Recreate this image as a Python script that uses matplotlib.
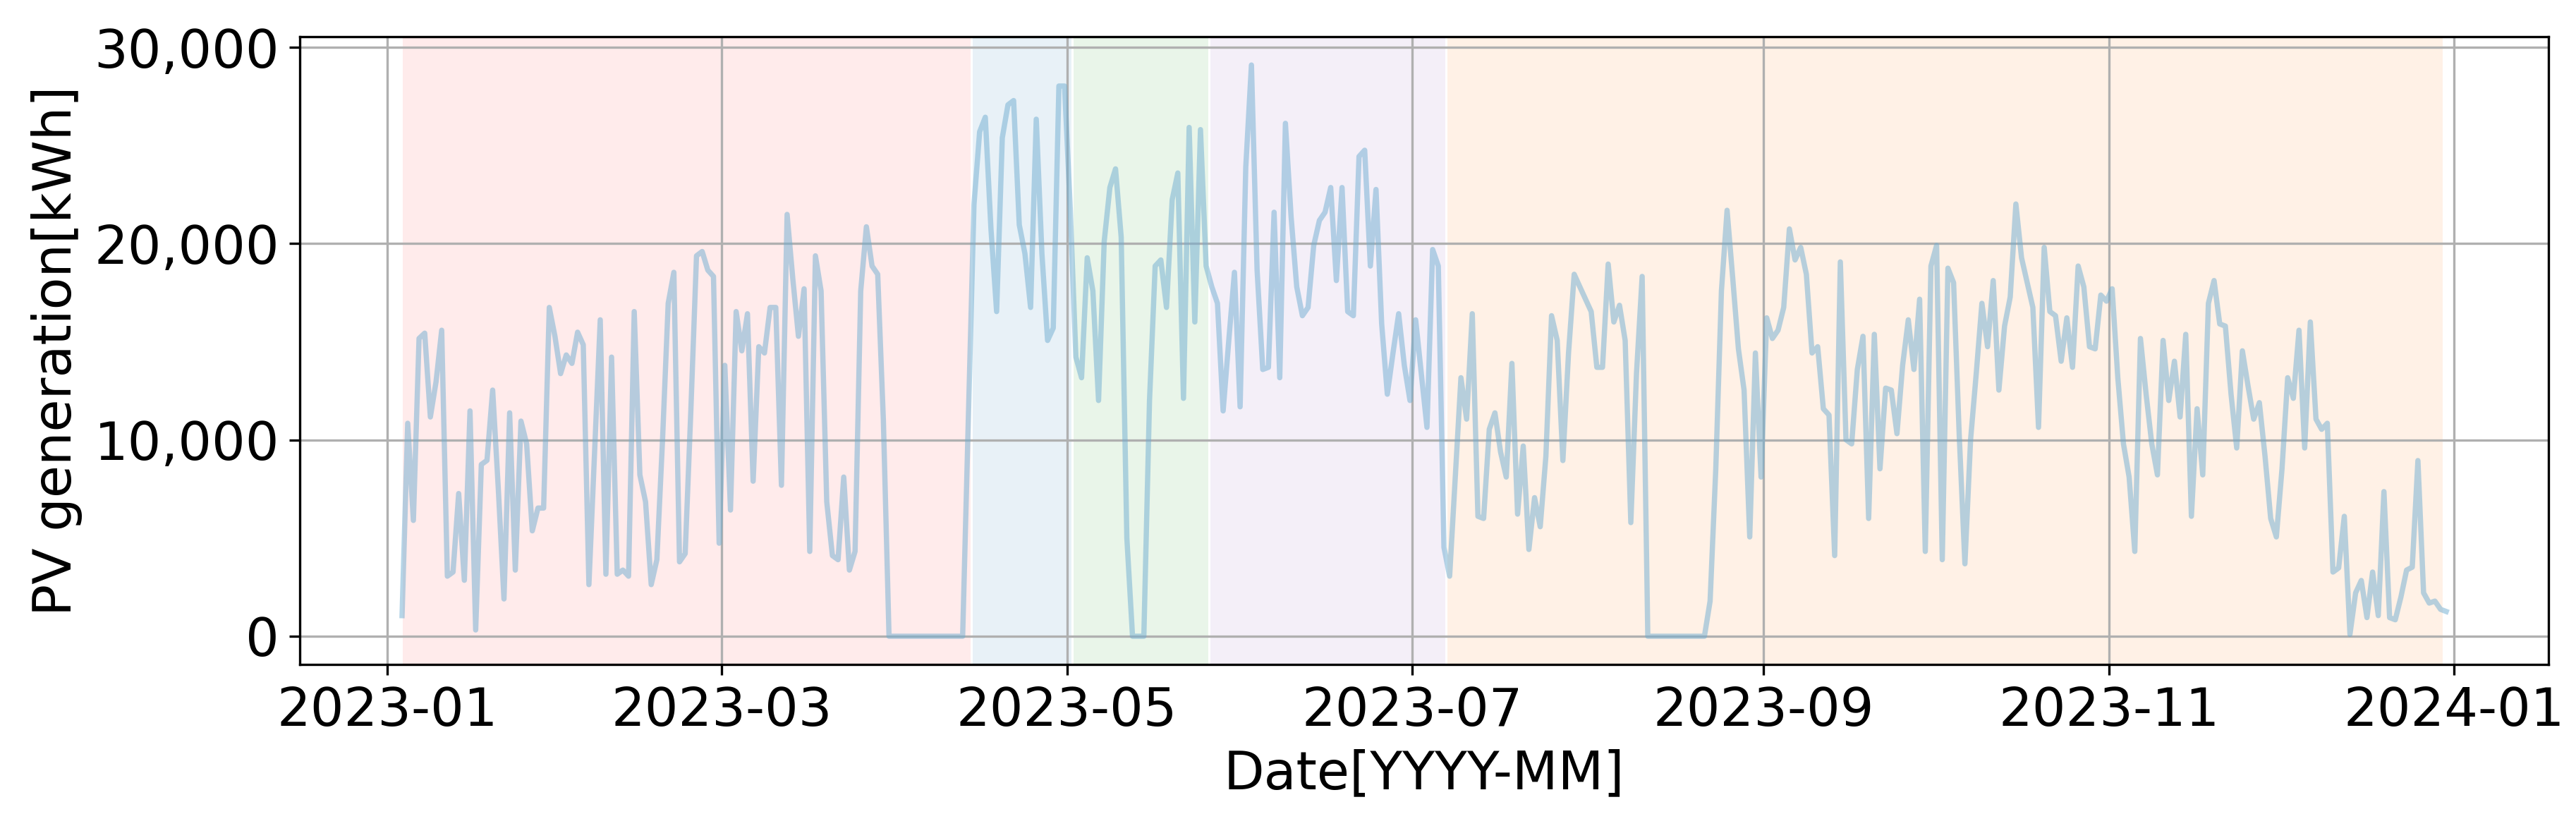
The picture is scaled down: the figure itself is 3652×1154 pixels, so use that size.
import numpy as np
import pandas as pd
import matplotlib
matplotlib.use("Agg")
from matplotlib import pyplot as plt
import matplotlib.dates as mdates
from matplotlib.ticker import FuncFormatter, MultipleLocator

plt.rcParams['font.family'] = ['DejaVu Sans']
plt.rcParams['font.size'] = 18

# daily PV generation [kWh], one value per day
start_date = "2023-01-03 14:00"
pv_kwh = [
    1050, 10850, 5900, 15170, 15440, 11170, 12960, 15590, 3060, 3270,
    7270, 2850, 11480, 320, 8750, 8960, 12540, 7500, 1900, 11380,
    3370, 10960, 9800, 5370, 6530, 6530, 16750, 15280, 13380, 14330,
    13900, 15490, 14850, 2630, 9400, 16120, 3160, 14220, 3160, 3370,
    3060, 16540, 8220, 6850, 2630, 3900, 10000, 16960, 18540, 3790,
    4210, 11500, 19380, 19600, 18650, 18330, 4740, 13800, 6430, 16540,
    14540, 16430, 7900, 14750, 14430, 16750, 16750, 7690, 21490, 18230,
    15280, 17700, 4320, 19380, 17590, 6850, 4110, 3900, 8110, 3370,
    4320, 17590, 20860, 18860, 18440, 11000, 0, 0, 0, 0,
    0, 0, 0, 0, 0, 0, 0, 0, 0, 0,
    11000, 22000, 25700, 26440, 20750, 16540, 25390, 27070, 27290, 20960,
    19490, 16750, 26340, 19490, 15070, 15700, 28030, 28030, 21800, 14220,
    13170, 19280, 17590, 12010, 20120, 22860, 23810, 20330, 5000, 0,
    0, 0, 12000, 18860, 19170, 16750, 22230, 23600, 12120, 25920,
    16010, 25810, 18860, 17800, 16960, 11480, 15070, 18540, 11690, 23900,
    29100, 18650, 13590, 13700, 21600, 13170, 26130, 21390, 17800, 16330,
    16750, 19910, 21180, 21600, 22860, 18120, 22860, 16540, 16330, 24440,
    24760, 18860, 22760, 15910, 12330, 14430, 16430, 13800, 12010, 16120,
    13380, 10640, 19700, 18860, 4530, 3060, 8110, 13170, 11060, 16430,
    6110, 6000, 10540, 11380, 9380, 8110, 13900, 6220, 9690, 4420,
    7060, 5580, 9170, 16330, 15070, 8950, 14430, 18440, 17800, 17170,
    16540, 13700, 13700, 18960, 16010, 16860, 15070, 5790, 13380, 18330,
    0, 0, 0, 0, 0, 0, 0, 0, 0, 0,
    0, 1790, 8500, 17590, 21700, 18230, 14640, 12540, 5060, 14430,
    8110, 16220, 15170, 15590, 16750, 20750, 19170, 19810, 18440, 14430,
    14750, 11590, 11270, 4110, 19070, 10010, 9800, 13590, 15280, 6000,
    15380, 8530, 12640, 12540, 10320, 13800, 16120, 13590, 17170, 4320,
    18860, 19910, 3900, 18750, 18010, 10220, 3690, 10010, 13380, 16960,
    14750, 18120, 12540, 15800, 17280, 22020, 19280, 18010, 16750, 10640,
    19810, 16540, 16330, 14010, 16220, 13700, 18860, 17800, 14750, 14640,
    17380, 17070, 17700, 13170, 9800, 8110, 4320, 15170, 12330, 9800,
    8220, 15070, 12010, 14010, 11170, 15380, 6110, 11590, 8220, 16960,
    18120, 15910, 15800, 12330, 9590, 14540, 12750, 11060, 11900, 9170,
    6000, 5060, 8530, 13170, 12120, 15590, 9590, 16010, 11060, 10540,
    10850, 3270, 3480, 6110, 100, 2210, 2840, 950, 3270, 1050,
    7370, 950, 840, 2000, 3370, 3520, 8950, 2210, 1690, 1790,
    1370, 1260,
]

# shaded periods
span_starts = ["2023-01-03 18:00", "2023-04-14 10:00", "2023-05-02 05:00",
               "2023-05-26 07:00", "2023-07-07 05:00"]
span_ends = ["2023-04-14 00:00", "2023-05-01 20:00", "2023-05-25 22:00",
             "2023-07-06 20:00", "2023-12-30 00:00"]
span_colors = ["red", "tab:blue", "tab:green", "tab:purple", "tab:orange"]
span_alphas = [0.08, 0.1, 0.1, 0.1, 0.1]

dates = pd.date_range(start_date, periods=len(pv_kwh), freq="D")

fig, ax = plt.subplots(figsize=(3652 / 300, 1154 / 300), dpi=300)
fig.subplots_adjust(left=0.1164, right=0.9893, top=0.9552, bottom=0.1833)

for s, e, c, a in zip(span_starts, span_ends, span_colors, span_alphas):
    ax.axvspan(pd.Timestamp(s), pd.Timestamp(e), color=c, alpha=a, lw=0)

ax.plot(dates, pv_kwh, color="#6fadd1", alpha=0.5, lw=1.8)

ax.grid(True)
ax.xaxis.set_major_locator(mdates.MonthLocator(bymonth=[1, 3, 5, 7, 9, 11]))
ax.xaxis.set_major_formatter(mdates.DateFormatter("%Y-%m"))
ax.yaxis.set_major_locator(MultipleLocator(10000))
ax.yaxis.set_major_formatter(FuncFormatter(lambda v, p: "{:,.0f}".format(v)))

ax.set_xlabel("Date[YYYY-MM]")
ax.set_ylabel("PV generation[kWh]")

fig.savefig("out.png", dpi=300)
